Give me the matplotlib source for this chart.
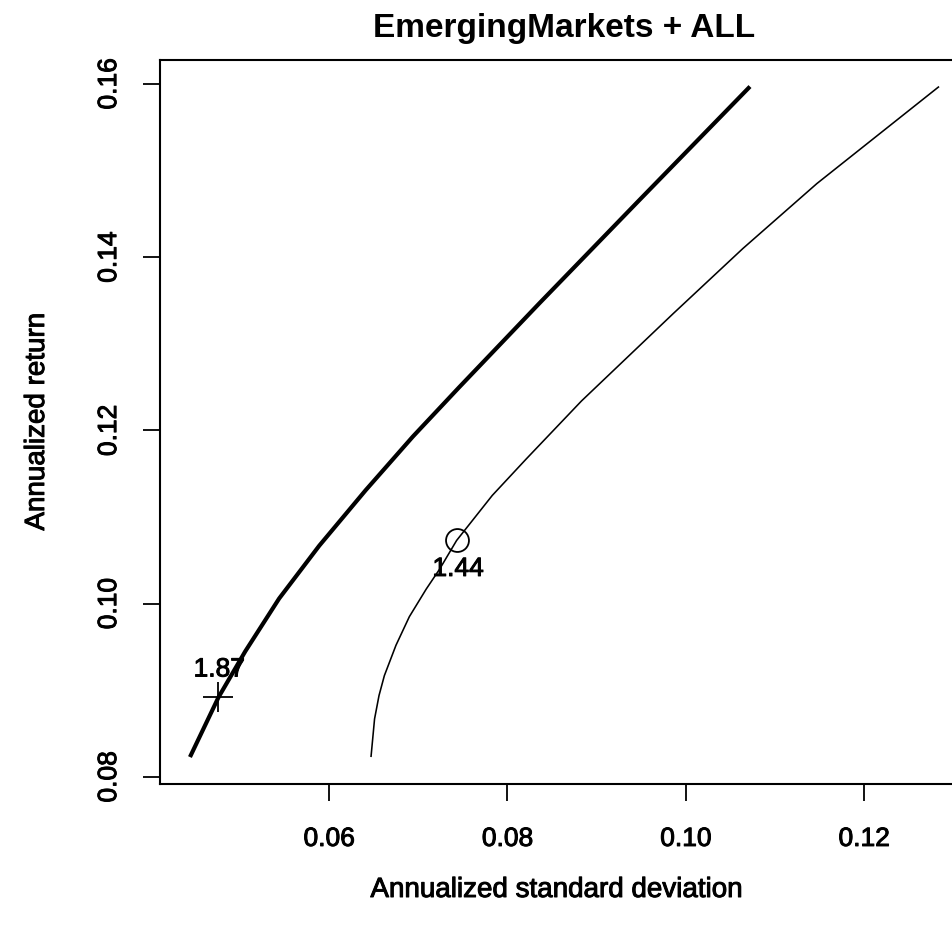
import matplotlib
matplotlib.use("Agg")
import matplotlib.pyplot as plt
import matplotlib.patheffects as pe

plt.rcParams['font.family'] = ['Liberation Sans', 'DejaVu Sans']

title = "EmergingMarkets + ALL"
xlabel = "Annualized standard deviation"
ylabel = "Annualized return"

# Thick frontier (ALL)
thick_sd = [0.0444, 0.0476, 0.0506, 0.0544, 0.0589, 0.0641, 0.0694, 0.0746,
            0.0836, 0.0948, 0.1072]
thick_ret = [0.0823, 0.0892, 0.0945, 0.1006, 0.1067, 0.1131, 0.1193, 0.1250,
             0.1347, 0.1466, 0.1597]

# Thin frontier (EmergingMarkets)
thin_sd = [0.0647, 0.0651, 0.0656, 0.0662, 0.0675, 0.0690, 0.0709, 0.0724,
           0.0743, 0.0783, 0.0821, 0.0883, 0.0986, 0.1064, 0.1147, 0.1284]
thin_ret = [0.0823, 0.0867, 0.0894, 0.0917, 0.0952, 0.0985, 0.1017, 0.1040,
            0.1073, 0.1125, 0.1167, 0.1234, 0.1335, 0.1410, 0.1485, 0.1597]

# Tangency points and Sharpe labels
pt_thick = (0.0476, 0.0892, "1.87")
pt_thin = (0.0743, 0.1073, "1.44")

xticks = [0.06, 0.08, 0.10, 0.12]
yticks = [0.08, 0.10, 0.12, 0.14, 0.16]
xticklabels = ["0.06", "0.08", "0.10", "0.12"]
yticklabels = ["0.08", "0.10", "0.12", "0.14", "0.16"]

heavy = [pe.withStroke(linewidth=0.7, foreground='black')]

W, H = 952, 937
fig = plt.figure(figsize=(W / 100, H / 100), dpi=100)
left_px, right_px, top_px, bot_px = 160, 969, 60.7, 784.9
ax = fig.add_axes([left_px / W, 1 - bot_px / H, (right_px - left_px) / W, (bot_px - top_px) / H])

ax.plot(thick_sd, thick_ret, color='black', lw=3.0, solid_capstyle='butt', solid_joinstyle='round')
ax.plot(thin_sd, thin_ret, color='black', lw=1.15, solid_capstyle='butt', solid_joinstyle='round')

ax.plot([pt_thick[0]], [pt_thick[1]], marker='+', ms=22, mew=1.3, color='black', ls='none')
ax.plot([pt_thin[0]], [pt_thin[1]], marker='o', ms=16.5, mew=1.3, mfc='none', mec='black', ls='none')
ax.annotate(pt_thick[2], (pt_thick[0], pt_thick[1]), xytext=(0.5, 20), textcoords='offset points',
            ha='center', va='center', fontsize=19, path_effects=heavy)
ax.annotate(pt_thin[2], (pt_thin[0], pt_thin[1]), xytext=(1, -20.5), textcoords='offset points',
            ha='center', va='center', fontsize=19, path_effects=heavy)

ax.set_xlim(0.04104, 0.13176)
ax.set_ylim(0.0792, 0.1628)
ax.set_xticks(xticks)
ax.set_xticklabels(xticklabels)
ax.set_yticks(yticks)
ax.set_yticklabels(yticklabels, rotation=90, va='center')
ax.tick_params(axis='both', direction='out', length=12, width=1.3, labelsize=19)
ax.tick_params(axis='x', pad=19)
ax.tick_params(axis='y', pad=16)
for lab in ax.get_xticklabels() + ax.get_yticklabels():
    lab.set_path_effects(heavy)
for s in ax.spines.values():
    s.set_linewidth(1.5)

fig.text(564 / W, 1 - 28 / H, title, ha='center', va='center', fontsize=24, fontweight='bold')
fig.text(556 / W, 1 - 891 / H, xlabel, ha='center', va='center', fontsize=20, path_effects=heavy)
fig.text(37 / W, 1 - 423 / H, ylabel, ha='center', va='center', fontsize=20, rotation=90,
         path_effects=heavy)

fig.savefig("out.png", dpi=100)
